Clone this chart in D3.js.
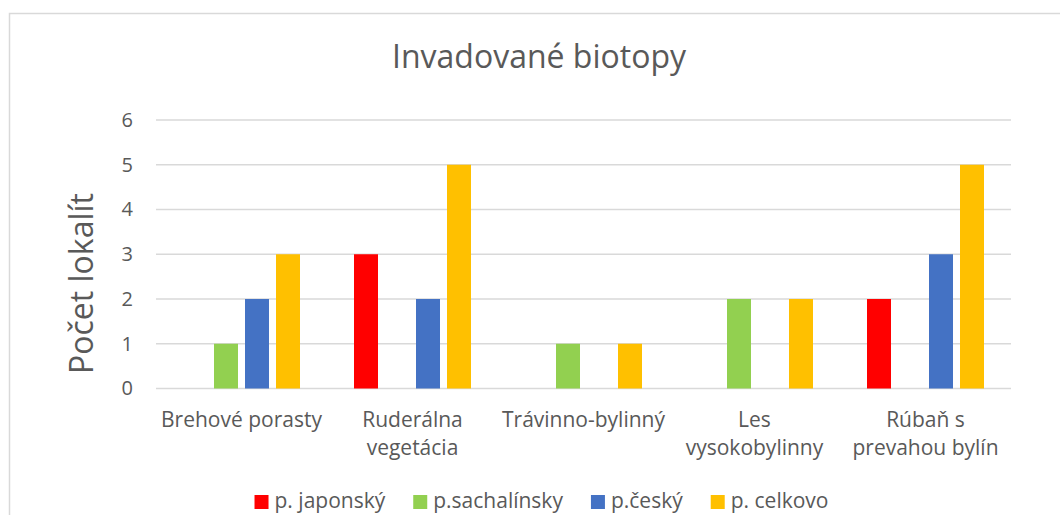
<!DOCTYPE html>
<html>
<head>
<meta charset="utf-8">
<script src="https://cdnjs.cloudflare.com/ajax/libs/d3/7.8.5/d3.min.js"></script>
<style>
  body { margin: 0; background: #fff; }
  svg text { font-family: "Open Sans", sans-serif; fill: #595959; }
</style>
</head>
<body>
<div id="chart"></div>
<script>
// chart data
var categories = [
  ["Brehové porasty"],
  ["Ruderálna", "vegetácia"],
  ["Trávinno-bylinný"],
  ["Les", "vysokobylinny"],
  ["Rúbaň s", "prevahou bylín"]
];
var seriesNames = ["p. japonský", "p.sachalínsky", "p.český", "p. celkovo"];
var seriesColors = ["#FF0000", "#92D050", "#4472C4", "#FFC000"];
var japonsky   = [0, 3, 0, 0, 2];
var sachalinsky = [1, 0, 1, 2, 0];
var cesky      = [2, 2, 0, 0, 3];
var celkovo    = [3, 5, 1, 2, 5];
var yTicks = [0, 1, 2, 3, 4, 5, 6];

var W = 1060, H = 515;
var plotLeft = 156, plotRight = 1011, plotTop = 120, plotBottom = 388.5;

var svg = d3.select("#chart").append("svg")
  .attr("width", W)
  .attr("height", H);

// outer chart border (runs off the right/bottom like the screenshot)
svg.append("rect")
  .attr("x", 9.5).attr("y", 13.5)
  .attr("width", 1100).attr("height", 600)
  .attr("fill", "none")
  .attr("stroke", "#d9d9d9")
  .attr("stroke-width", 1.5);

var catIdx = d3.range(categories.length);
var x0 = d3.scaleBand().domain(catIdx).range([plotLeft, plotRight]);
var x1 = d3.scaleBand().domain(d3.range(seriesNames.length))
  .range([0, x0.bandwidth()])
  .paddingInner(7 / 31)
  .paddingOuter(0.871);
var y = d3.scaleLinear().domain([0, 6]).range([plotBottom, plotTop]);

// gridlines
svg.append("g").selectAll("line")
  .data(yTicks)
  .enter().append("line")
  .attr("x1", plotLeft).attr("x2", plotRight)
  .attr("y1", function(d) { return y(d); })
  .attr("y2", function(d) { return y(d); })
  .attr("stroke", "#d9d9d9")
  .attr("stroke-width", 1.5);

// y axis tick labels
var yAxis = d3.axisLeft(y).tickValues(yTicks).tickFormat(d3.format("d")).tickSize(0).tickPadding(0);
var yg = svg.append("g")
  .attr("transform", "translate(133,0)")
  .call(yAxis);
yg.select(".domain").remove();
yg.selectAll("text")
  .style("font-family", "Open Sans")
  .style("font-size", "20px")
  .attr("fill", "#595959");

// bars
var allSeries = [japonsky, sachalinsky, cesky, celkovo];
var groups = svg.append("g").selectAll("g")
  .data(allSeries)
  .enter().append("g")
  .attr("fill", function(d, i) { return seriesColors[i]; });

groups.each(function(vals, si) {
  d3.select(this).selectAll("rect")
    .data(vals.map(function(v, ci) { return {v: v, ci: ci}; }).filter(function(d) { return d.v > 0; }))
    .enter().append("rect")
    .attr("x", function(d) { return x0(d.ci) + x1(si); })
    .attr("y", function(d) { return y(d.v); })
    .attr("width", x1.bandwidth())
    .attr("height", function(d) { return y(0) - y(d.v); });
});

// category labels
var cl = svg.append("g").selectAll("text")
  .data(categories)
  .enter().append("text")
  .attr("text-anchor", "middle")
  .style("font-size", "21px")
  .attr("x", function(d, i) { return x0(i) + x0.bandwidth() / 2; })
  .attr("y", 427);
cl.selectAll("tspan")
  .data(function(d) { return d; })
  .enter().append("tspan")
  .attr("x", function() { return d3.select(this.parentNode).attr("x"); })
  .attr("dy", function(d, i) { return i === 0 ? 0 : 28; })
  .text(function(d) { return d; });

// title
svg.append("text")
  .attr("x", 539).attr("y", 68)
  .attr("text-anchor", "middle")
  .style("font-size", "32px")
  .text("Invadované biotopy");

// y axis label
svg.append("text")
  .attr("transform", "translate(93,283.5) rotate(-90)")
  .attr("text-anchor", "middle")
  .style("font-size", "32px")
  .text("Počet lokalít");

// legend
var legend = svg.append("g");
var items = legend.selectAll("g")
  .data(seriesNames)
  .enter().append("g");
items.append("rect")
  .attr("width", 14).attr("height", 14)
  .attr("y", 495)
  .attr("fill", function(d, i) { return seriesColors[i]; });
items.append("text")
  .attr("x", 20)
  .attr("y", 508)
  .style("font-size", "21px")
  .text(function(d) { return d; });
var pos = 0, offsets = [];
items.each(function() {
  offsets.push(pos);
  pos += 20 + this.querySelector("text").getComputedTextLength() + 28;
});
var total = pos - 28;
var startX = 541.5 - total / 2;
items.attr("transform", function(d, i) { return "translate(" + (startX + offsets[i]) + ",0)"; });
</script>
</body>
</html>
